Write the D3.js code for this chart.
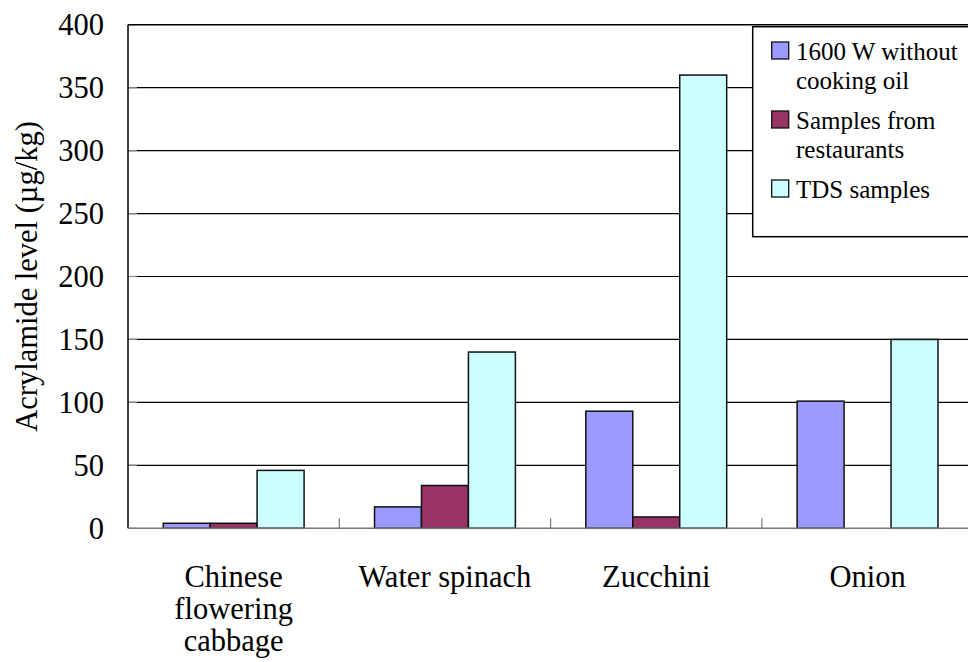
<!DOCTYPE html>
<html>
<head>
<meta charset="utf-8">
<script src="https://cdn.jsdelivr.net/npm/d3@7/dist/d3.min.js"></script>
<style>
  html, body { margin: 0; padding: 0; background: #fff; }
  svg { display: block; font-family: 'Liberation Serif', 'Times New Roman', Times, Tinos, 'DejaVu Serif', serif; }
  svg text { font-family: 'Liberation Serif', 'Times New Roman', Times, Tinos, 'DejaVu Serif', serif; fill: #000; }
</style>
</head>
<body>
<svg id="chart" width="968" height="662"></svg>
<script>
// ---- data ----
const categories = [["Chinese", "flowering", "cabbage"], ["Water spinach"], ["Zucchini"], ["Onion"]];
const categoryKeys = ["Chinese flowering cabbage", "Water spinach", "Zucchini", "Onion"];
const seriesNames = [["1600 W without", "cooking oil"], ["Samples from", "restaurants"], ["TDS samples"]];
const seriesKeys = ["1600 W without cooking oil", "Samples from restaurants", "TDS samples"];
const seriesColors = ["#9999FF", "#993366", "#CCFFFF"];
const valuesW1600 = [4, 17, 93, 101];
const valuesRestaurants = [4, 34, 9, 0];
const valuesTDS = [46, 140, 360, 150];
const yTicks = [0, 50, 100, 150, 200, 250, 300, 350, 400];
const yTitle = "Acrylamide level (µg/kg)";

const seriesValues = [valuesW1600, valuesRestaurants, valuesTDS];
const FONT = "'Liberation Serif', 'Times New Roman', Times, Tinos, 'DejaVu Serif', serif";

// ---- layout ----
const svg = d3.select("#chart");
const plot = { left: 128, top: 24.7, right: 973.2, bottom: 528.3 };

const x0 = d3.scaleBand().domain(categoryKeys).range([plot.left, plot.right]).padding(0);
const x1 = d3.scaleBand().domain(seriesKeys).range([0, x0.bandwidth()]).paddingInner(0).paddingOuter(0.75);
const y = d3.scaleLinear().domain([0, 400]).range([plot.bottom, plot.top]);

// gridlines
svg.append("g").selectAll("line").data(yTicks.filter(t => t > 0 && t < 400)).join("line")
  .attr("x1", plot.left).attr("x2", plot.right)
  .attr("y1", d => y(d)).attr("y2", d => y(d))
  .attr("stroke", "#000").attr("stroke-width", 1.2);

// y inner tick marks
svg.append("g").selectAll("line").data(yTicks).join("line")
  .attr("x1", plot.left).attr("x2", plot.left + 9)
  .attr("y1", d => y(d)).attr("y2", d => y(d))
  .attr("stroke", "#888").attr("stroke-width", 1.2);

// bars
const groups = svg.append("g").selectAll("g").data(categoryKeys).join("g")
  .attr("transform", d => `translate(${x0(d)},0)`);
groups.selectAll("rect")
  .data((d, i) => seriesKeys.map((s, j) => ({ s, j, v: seriesValues[j][i] })))
  .join("rect")
  .filter(d => d.v > 0)
  .attr("x", d => x1(d.s))
  .attr("y", d => y(d.v))
  .attr("width", x1.bandwidth())
  .attr("height", d => y(0) - y(d.v))
  .attr("fill", d => seriesColors[d.j])
  .attr("stroke", "#111").attr("stroke-width", 1.5);

// top border & left axis
svg.append("line").attr("x1", plot.left).attr("x2", plot.right).attr("y1", y(400)).attr("y2", y(400))
  .attr("stroke", "#000").attr("stroke-width", 1.5);
svg.append("line").attr("x1", plot.left).attr("x2", plot.left).attr("y1", y(400)).attr("y2", y(0))
  .attr("stroke", "#000").attr("stroke-width", 1.5);
// bottom axis
svg.append("line").attr("x1", plot.left).attr("x2", plot.right).attr("y1", y(0)).attr("y2", y(0))
  .attr("stroke", "#777").attr("stroke-width", 1.6);

// category tick marks (between groups)
svg.append("g").selectAll("line").data(categoryKeys.slice(1)).join("line")
  .attr("x1", d => x0(d)).attr("x2", d => x0(d))
  .attr("y1", y(0) - 10).attr("y2", y(0))
  .attr("stroke", "#777").attr("stroke-width", 1.2);

// y tick labels
svg.append("g").selectAll("text").data(yTicks).join("text")
  .attr("x", 104).attr("y", d => y(d)).attr("dy", "0.35em")
  .attr("text-anchor", "end").attr("font-family", FONT).style("font-size", "30.5px")
  .text(d => d);

// y title
svg.append("text")
  .attr("transform", `translate(37,${(plot.top + plot.bottom) / 2}) rotate(-90)`)
  .attr("text-anchor", "middle").attr("font-family", FONT).style("font-size", "30.5px")
  .text(yTitle);

// category labels
const catLabels = svg.append("g").selectAll("text").data(categoryKeys).join("text")
  .attr("text-anchor", "middle").attr("font-family", FONT).style("font-size", "30.5px")
  .attr("x", d => x0(d) + x0.bandwidth() / 2)
  .attr("y", 587);
catLabels.each(function (d, i) {
  d3.select(this).selectAll("tspan").data(categories[i]).join("tspan")
    .attr("x", x0(d) + x0.bandwidth() / 2)
    .attr("dy", (t, k) => k === 0 ? 0 : 32)
    .text(t => t);
});

// legend
const legend = svg.append("g");
legend.append("rect").attr("x", 752.7).attr("y", 26.7).attr("width", 260).attr("height", 210)
  .attr("fill", "#fff").attr("stroke", "#000").attr("stroke-width", 1.5);
const rowBase = [60, 129, 198];
seriesKeys.forEach((k, i) => {
  legend.append("rect").attr("x", 771.7).attr("y", rowBase[i] - 18).attr("width", 17).attr("height", 17)
    .attr("fill", seriesColors[i]).attr("stroke", "#111").attr("stroke-width", 1.3);
  const t = legend.append("text").attr("x", 796).attr("y", rowBase[i])
    .attr("font-family", FONT).style("font-size", "25px");
  t.selectAll("tspan").data(seriesNames[i]).join("tspan")
    .attr("x", 796).attr("dy", (s, j) => j === 0 ? 0 : 28.5).text(s => s);
});
</script>
</body>
</html>
